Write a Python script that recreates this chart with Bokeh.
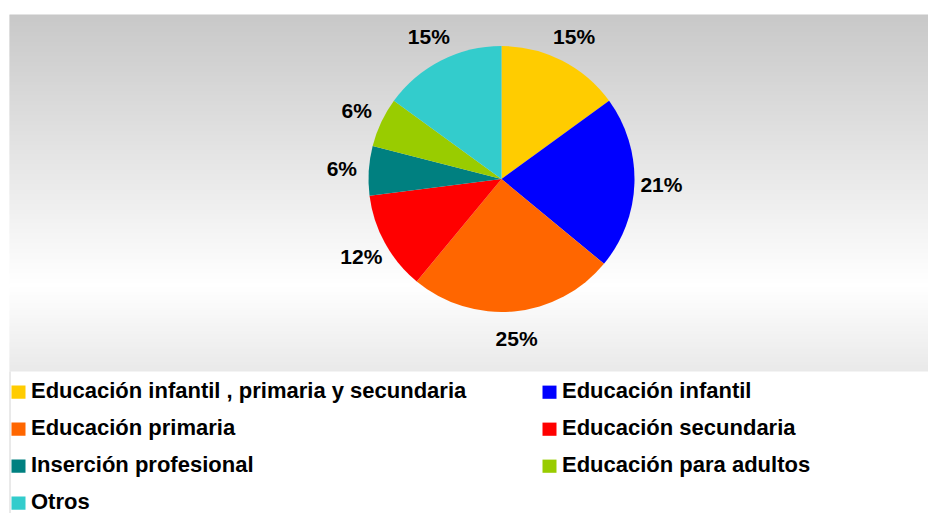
import math
from bokeh.plotting import figure
from bokeh.models import Range1d, ColumnDataSource
from bokeh.core.properties import value
from bokeh.embed import file_html
from bokeh.resources import INLINE

# ---- data ----
categories = [
    "Educación infantil , primaria y secundaria",
    "Educación infantil",
    "Educación primaria",
    "Educación secundaria",
    "Inserción profesional",
    "Educación para adultos",
    "Otros",
]
percentages = [15, 21, 25, 12, 6, 6, 15]
colors = ["#FFCC00", "#0000FF", "#FF6600", "#FF0000", "#008080", "#99CC00", "#33CCCC"]

# ---- layout (window pixel coordinates) ----
W, H = 928, 513
MARGIN = 0


def X(wx):
    return wx - MARGIN


def Y(wy):
    return (H + MARGIN) - wy


p = figure(width=W, height=H, x_range=Range1d(0, W), y_range=Range1d(0, H),
           output_backend="svg", toolbar_location=None,
           x_axis_type=None, y_axis_type=None, min_border=0)
p.outline_line_color = None
p.background_fill_color = "white"
p.border_fill_color = "white"
p.grid.visible = False

# ---- plot-area gradient background ----
top_y, white_y, bot_y = 14, 285, 371
stops = [(top_y, 200), (white_y, 255), (bot_y, 233)]


def shade(wy):
    for (y0, c0), (y1, c1) in zip(stops[:-1], stops[1:]):
        if y0 <= wy <= y1:
            t = (wy - y0) / (y1 - y0)
            return int(round(c0 + (c1 - c0) * t))
    return stops[-1][1]


def grey(v):
    return "#%02x%02x%02x" % (v, v, v)


rows = list(range(top_y, bot_y))
p.quad(left=[X(9)] * len(rows), right=[X(928)] * len(rows),
       top=[Y(r) for r in rows], bottom=[Y(min(r + 1.6, bot_y)) for r in rows],
       fill_color=[grey(shade(r + 0.5)) for r in rows],
       line_color=None)

# left border of the chart area (legend part)
p.segment(x0=[X(9.5)], y0=[Y(bot_y)], x1=[X(9.5)], y1=[Y(513)],
          line_color="#D4D4D4", line_width=1)

# ---- pie ----
cx, cy, R = 501, 178.5, 133
total = float(sum(percentages))
starts, ends, mids = [], [], []
acc = 0.0
for v in percentages:
    a0 = math.pi / 2 - 2 * math.pi * acc / total
    acc += v
    a1 = math.pi / 2 - 2 * math.pi * acc / total
    starts.append(a0)
    ends.append(a1)
    mids.append((a0 + a1) / 2)

src = ColumnDataSource(dict(start=starts, end=ends, color=colors))
p.wedge(x=X(cx), y=Y(cy), radius=R, radius_units="screen",
        start_angle="start", end_angle="end", direction="clock",
        fill_color="color", line_color=None, source=src)

RL = 160
lab_x = [X(cx) + RL * math.cos(m) for m in mids]
lab_y = [Y(cy) + RL * math.sin(m) for m in mids]
p.text(x=lab_x, y=lab_y, text=[f"{v}%" for v in percentages],
       text_font=value("Liberation Sans"), text_font_style="bold",
       text_font_size="21px", text_color="black",
       text_align="center", text_baseline="middle")

# ---- legend (two columns, row-wise) ----
col_sq_x = [11, 542]
col_tx_x = [30.5, 561.5]
row0_base = 397.6
row_step = 37.0
text_shift = 7.3
sq_l, sq_r, sq_t, sq_b, tx_x, tx_y = [], [], [], [], [], []
for i, name in enumerate(categories):
    c, r = i % 2, i // 2
    base = row0_base + r * row_step
    sq_l.append(X(col_sq_x[c]))
    sq_r.append(X(col_sq_x[c] + 14))
    sq_t.append(Y(base - 12.5))
    sq_b.append(Y(base + 0.7))
    tx_x.append(X(col_tx_x[c]))
    tx_y.append(Y(base - text_shift))

p.quad(left=sq_l, right=sq_r, top=sq_t, bottom=sq_b, fill_color=colors, line_color=None)
p.text(x=tx_x, y=tx_y, text=categories,
       text_font=value("Liberation Sans"), text_font_style="bold",
       text_font_size="22px", text_color="black",
       text_align="left", text_baseline="alphabetic")

open("out.html", "w").write(file_html(p, INLINE))
